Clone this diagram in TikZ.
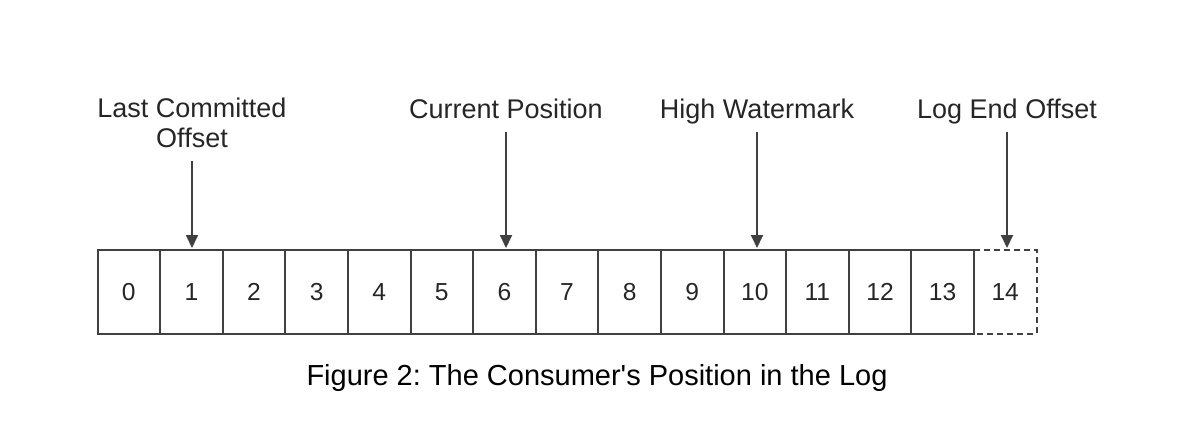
\documentclass[tikz,border=0pt]{standalone}
\usepackage{fontspec}
\setmainfont{Liberation Sans}
\newfontfamily\captionfont{Liberation Sans}
\usetikzlibrary{arrows.meta,positioning}
\frenchspacing

\begin{document}
\begin{tikzpicture}
    [x=0.5pt, y=-0.5pt,
     cell/.style = {rectangle, draw = black!75, line width = 1pt, inner sep = 0pt, outer sep = 0pt,
                    minimum width = 31.3pt, minimum height = 42pt, text = black!85,
                    font = \fontsize{12.3}{14}\selectfont},
     marker/.style = {inner sep = 0pt, align = center, text depth = 0pt, text = black!85,
                      font = \fontsize{13.5}{15}\selectfont},
     pointer/.style = {-{Triangle[width=6pt,length=6.5pt]}, draw = black!75, line width = 0.9pt,
                       shorten <= 6.5pt, shorten >= 1pt}]
    \useasboundingbox (0,0) rectangle (1194,446);
    % the log
    \foreach \i in {0,...,13}
      \node[cell] (c\i) at ({97.5+62.6*(\i+0.5)},292) {\i};
    \node[cell, draw = none] (c14) at ({97.5+62.6*14.5},292) {14};
    \draw[black!75, line width = 1pt, dash pattern = on 3pt off 2pt]
      (c14.north west) -- (c14.north east) -- (c14.south east) -- (c14.south west);
    % markers
    \node[marker] (commit) at (192,123) {Last Committed\\Offset};
    \node[marker] (current) at (506,109) {Current Position};
    \node[marker] (hwm) at (757,109) {High Watermark};
    \node[marker] (leo) at (1007,109) {Log End Offset};
    \foreach \from/ \to in {commit/c1,current/c6,hwm/c10,leo/c14}
      \draw[pointer] (\from.south) -- (\from.south |- \to.north);
    % caption
    \node[font = \captionfont\fontsize{14.5}{16}\selectfont] (caption) at (597,378) {Figure 2: The Consumer's Position in the Log};
  \end{tikzpicture}
\end{document}
